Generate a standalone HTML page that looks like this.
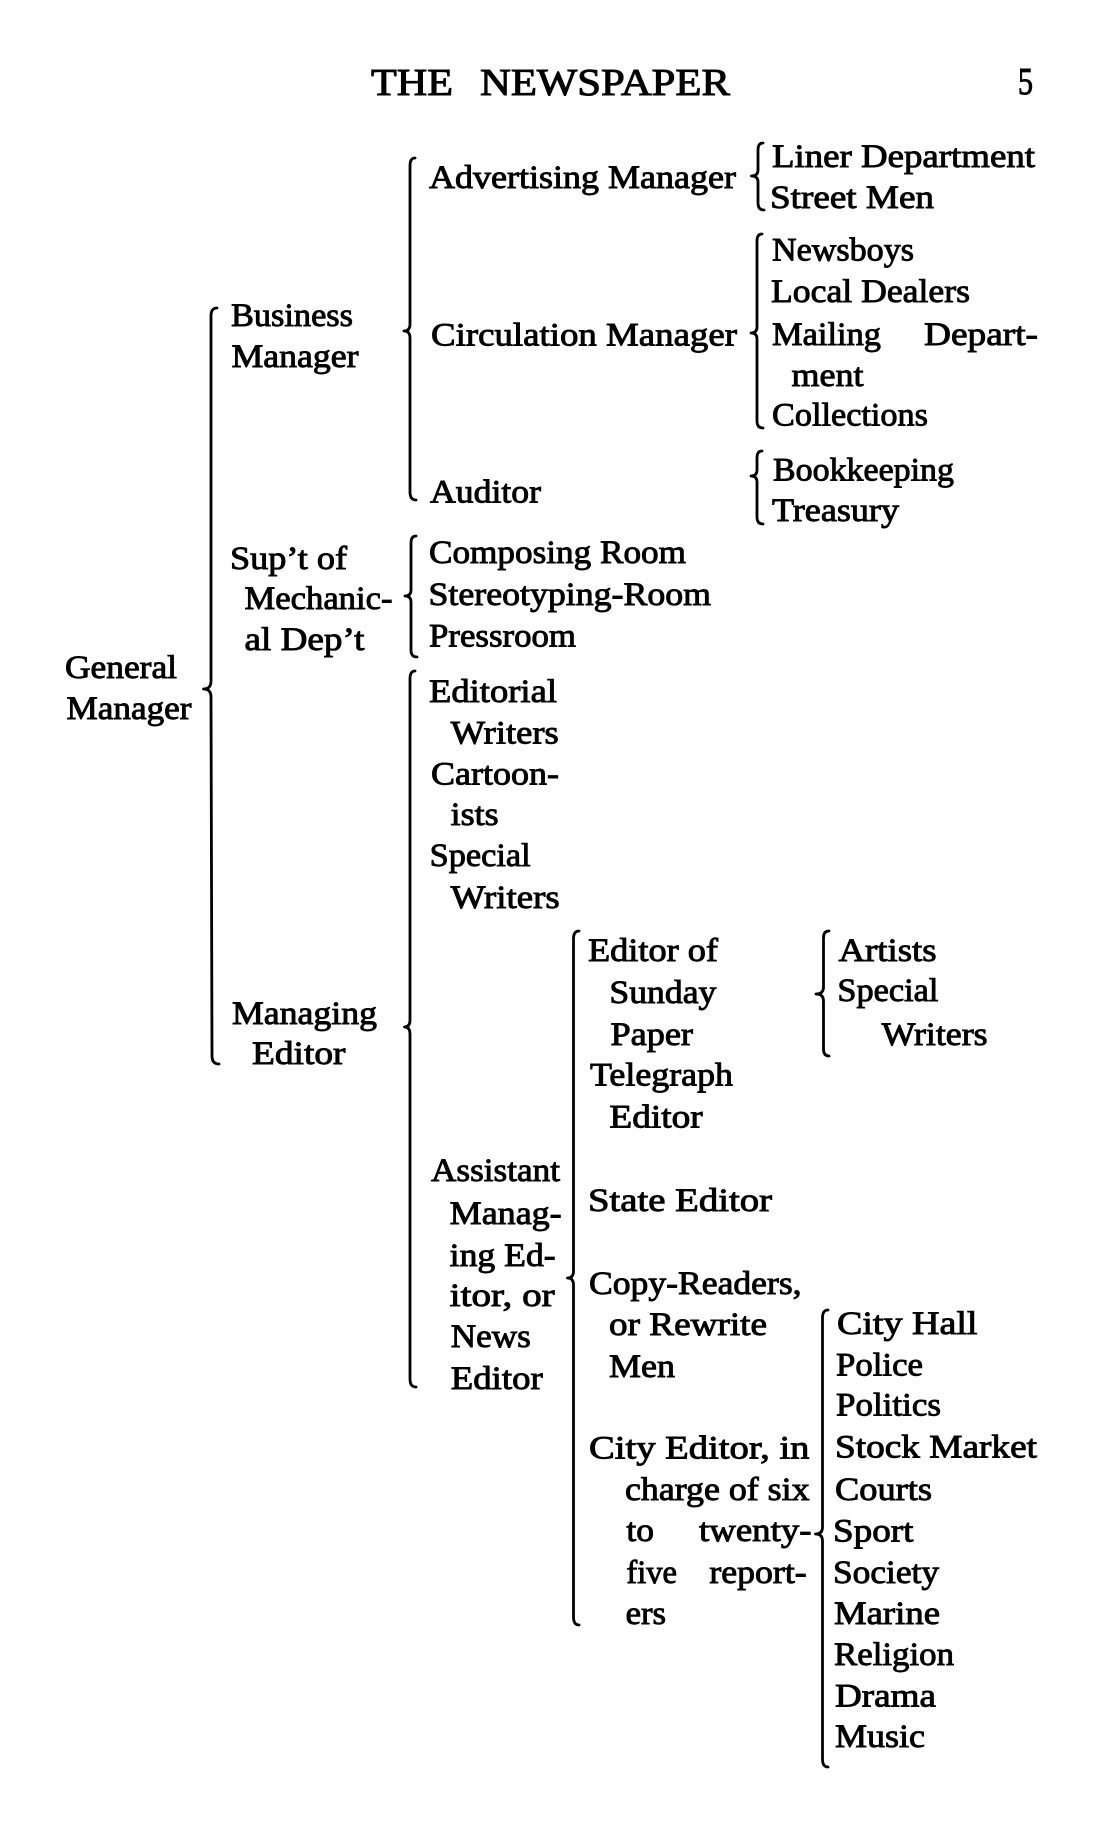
<!DOCTYPE html>
<html>
<head>
<meta charset="utf-8">
<style>
  html,body{margin:0;padding:0;background:#fff;}
  svg{display:block;}
  text{font-family:"Liberation Serif","DejaVu Serif",serif;font-size:33px;fill:#000;stroke:#000;stroke-width:0.9px;}
  .h{font-size:38px;stroke-width:1px;}
  path{fill:none;stroke:#000;stroke-width:2.8;stroke-linecap:round;stroke-linejoin:round;}
</style>
</head>
<body>
<svg width="1099" height="1835" viewBox="0 0 1099 1835" xmlns="http://www.w3.org/2000/svg">
  <!-- Header -->
  <text class="h" x="371" y="95" textLength="82" lengthAdjust="spacingAndGlyphs">THE</text>
  <text class="h" x="480" y="95" textLength="250" lengthAdjust="spacingAndGlyphs">NEWSPAPER</text>
  <text class="h" x="1018" y="94" textLength="15" lengthAdjust="spacingAndGlyphs">5</text>

  <!-- Braces -->
  <path d="M217 308 Q211 308 211 316 L211 681 Q211 689 203.5 689 Q211 689 211 697 L212 1056 Q212 1064 219 1064"/>
  <path d="M415 158 Q410 158 410 166 L410 324 Q410 331 404 331 Q410 331 410 338 L410 492 Q410 500 416 500"/>
  <path d="M416 536 Q411 536 411 543 L411 590 Q411 596 405 596 Q411 596 411 602 L411 650 Q411 657 417 657"/>
  <path d="M415 671 Q410 671 410 679 L410 1020 Q410 1027 404.5 1027 Q410 1027 410 1034 L410 1379 Q410 1387 416 1387"/>
  <path d="M763 143 Q758 143 758 150 L758 170 Q758 176 751.5 176 Q758 176 758 182 L758 203 Q758 210 764 210"/>
  <path d="M762 234 Q757 234 757 241 L757 327 Q757 333 751 333 Q757 333 757 339 L757 421 Q757 428 763 428"/>
  <path d="M762 451 Q757 451 757 458 L757 470 Q757 476 751 476 Q757 476 757 482 L757 517 Q757 524 763 524"/>
  <path d="M579 931 Q573.5 931 573.5 939 L573.5 1271 Q573.5 1278 567.5 1278 Q573.5 1278 573.5 1285 L573.5 1617 Q573.5 1625 579 1625"/>
  <path d="M829 931 Q823.5 931 823.5 938 L823.5 987 Q823.5 994 816 994 Q823.5 994 823.5 1001 L823.5 1049 Q823.5 1056 829 1056"/>
  <path d="M828 1310 Q822.5 1310 822.5 1318 L822.5 1527 Q822.5 1534 815.5 1534 Q822.5 1534 822.5 1541 L822.5 1759 Q822.5 1767 828 1767"/>

  <!-- Level 1 -->
  <text x="65" y="678" textLength="112" lengthAdjust="spacingAndGlyphs">General</text>
  <text x="66.5" y="719" textLength="125" lengthAdjust="spacingAndGlyphs">Manager</text>

  <!-- Level 2 -->
  <text x="231" y="326" textLength="122" lengthAdjust="spacingAndGlyphs">Business</text>
  <text x="231.5" y="367" textLength="127" lengthAdjust="spacingAndGlyphs">Manager</text>
  <text x="230" y="569" textLength="117" lengthAdjust="spacingAndGlyphs">Sup’t of</text>
  <text x="244.5" y="609" textLength="148" lengthAdjust="spacingAndGlyphs">Mechanic-</text>
  <text x="244.5" y="650" textLength="120" lengthAdjust="spacingAndGlyphs">al Dep’t</text>
  <text x="232" y="1024" textLength="145" lengthAdjust="spacingAndGlyphs">Managing</text>
  <text x="252" y="1064" textLength="93.5" lengthAdjust="spacingAndGlyphs">Editor</text>

  <!-- Level 3: Business -->
  <text x="429" y="188" textLength="307" lengthAdjust="spacingAndGlyphs">Advertising Manager</text>
  <text x="431" y="345.5" textLength="306" lengthAdjust="spacingAndGlyphs">Circulation Manager</text>
  <text x="430" y="502.5" textLength="111" lengthAdjust="spacingAndGlyphs">Auditor</text>

  <!-- Level 3: Mechanical -->
  <text x="429" y="563" textLength="257" lengthAdjust="spacingAndGlyphs">Composing Room</text>
  <text x="428.5" y="605" textLength="282.5" lengthAdjust="spacingAndGlyphs">Stereotyping-Room</text>
  <text x="429" y="646.5" textLength="147" lengthAdjust="spacingAndGlyphs">Pressroom</text>

  <!-- Level 3: Managing Editor -->
  <text x="429" y="702" textLength="128" lengthAdjust="spacingAndGlyphs">Editorial</text>
  <text x="450.7" y="743.5" textLength="108" lengthAdjust="spacingAndGlyphs">Writers</text>
  <text x="431" y="784.5" textLength="128" lengthAdjust="spacingAndGlyphs">Cartoon-</text>
  <text x="450.7" y="825" textLength="48" lengthAdjust="spacingAndGlyphs">ists</text>
  <text x="429.7" y="866" textLength="101" lengthAdjust="spacingAndGlyphs">Special</text>
  <text x="450.7" y="908" textLength="109" lengthAdjust="spacingAndGlyphs">Writers</text>
  <text x="431" y="1181" textLength="129" lengthAdjust="spacingAndGlyphs">Assistant</text>
  <text x="449.7" y="1224" textLength="112" lengthAdjust="spacingAndGlyphs">Manag-</text>
  <text x="449.7" y="1266" textLength="106" lengthAdjust="spacingAndGlyphs">ing Ed-</text>
  <text x="449.7" y="1306" textLength="105" lengthAdjust="spacingAndGlyphs">itor, or</text>
  <text x="450.8" y="1347" textLength="80" lengthAdjust="spacingAndGlyphs">News</text>
  <text x="450.8" y="1389" textLength="92" lengthAdjust="spacingAndGlyphs">Editor</text>

  <!-- Level 4 -->
  <text x="772" y="167" textLength="263" lengthAdjust="spacingAndGlyphs">Liner Department</text>
  <text x="770" y="208" textLength="164" lengthAdjust="spacingAndGlyphs">Street Men</text>
  <text x="772" y="260.5" textLength="142" lengthAdjust="spacingAndGlyphs">Newsboys</text>
  <text x="771" y="302" textLength="199" lengthAdjust="spacingAndGlyphs">Local Dealers</text>
  <text x="772" y="345" textLength="109" lengthAdjust="spacingAndGlyphs">Mailing</text>
  <text x="924" y="345" textLength="114" lengthAdjust="spacingAndGlyphs">Depart-</text>
  <text x="791.5" y="386" textLength="72" lengthAdjust="spacingAndGlyphs">ment</text>
  <text x="772" y="425.5" textLength="156" lengthAdjust="spacingAndGlyphs">Collections</text>
  <text x="773" y="480.5" textLength="181" lengthAdjust="spacingAndGlyphs">Bookkeeping</text>
  <text x="772" y="521" textLength="127" lengthAdjust="spacingAndGlyphs">Treasury</text>

  <!-- Level 4: Assistant ME children -->
  <text x="588" y="961" textLength="130" lengthAdjust="spacingAndGlyphs">Editor of</text>
  <text x="609.4" y="1003" textLength="107" lengthAdjust="spacingAndGlyphs">Sunday</text>
  <text x="610.5" y="1045" textLength="82.5" lengthAdjust="spacingAndGlyphs">Paper</text>
  <text x="590" y="1085.5" textLength="143" lengthAdjust="spacingAndGlyphs">Telegraph</text>
  <text x="609.4" y="1127.5" textLength="93.3" lengthAdjust="spacingAndGlyphs">Editor</text>
  <text x="588" y="1211" textLength="184" lengthAdjust="spacingAndGlyphs">State Editor</text>
  <text x="589" y="1294" textLength="212.6" lengthAdjust="spacingAndGlyphs">Copy-Readers,</text>
  <text x="609" y="1335" textLength="158" lengthAdjust="spacingAndGlyphs">or Rewrite</text>
  <text x="609" y="1377" textLength="66" lengthAdjust="spacingAndGlyphs">Men</text>
  <text x="589" y="1458.5" textLength="220.5" lengthAdjust="spacingAndGlyphs">City Editor, in</text>
  <text x="625" y="1500" textLength="184.5" lengthAdjust="spacingAndGlyphs">charge of six</text>
  <text x="626.4" y="1541" textLength="27.6" lengthAdjust="spacingAndGlyphs">to</text>
  <text x="699" y="1541" textLength="112.5" lengthAdjust="spacingAndGlyphs">twenty-</text>
  <text x="626.4" y="1583" textLength="50.6" lengthAdjust="spacingAndGlyphs">five</text>
  <text x="709.4" y="1583" textLength="97.3" lengthAdjust="spacingAndGlyphs">report-</text>
  <text x="625.6" y="1624" textLength="40.4" lengthAdjust="spacingAndGlyphs">ers</text>

  <!-- Level 5: Sunday -->
  <text x="838.5" y="961" textLength="98" lengthAdjust="spacingAndGlyphs">Artists</text>
  <text x="837.4" y="1001" textLength="101" lengthAdjust="spacingAndGlyphs">Special</text>
  <text x="881.6" y="1045" textLength="106" lengthAdjust="spacingAndGlyphs">Writers</text>

  <!-- Level 5: City -->
  <text x="837" y="1334" textLength="140.5" lengthAdjust="spacingAndGlyphs">City Hall</text>
  <text x="836" y="1375.5" textLength="87" lengthAdjust="spacingAndGlyphs">Police</text>
  <text x="836" y="1415.5" textLength="105" lengthAdjust="spacingAndGlyphs">Politics</text>
  <text x="835" y="1457.5" textLength="202" lengthAdjust="spacingAndGlyphs">Stock Market</text>
  <text x="835" y="1500" textLength="97" lengthAdjust="spacingAndGlyphs">Courts</text>
  <text x="833" y="1541.5" textLength="80.5" lengthAdjust="spacingAndGlyphs">Sport</text>
  <text x="833" y="1583" textLength="106" lengthAdjust="spacingAndGlyphs">Society</text>
  <text x="834" y="1624" textLength="106" lengthAdjust="spacingAndGlyphs">Marine</text>
  <text x="834" y="1665" textLength="120" lengthAdjust="spacingAndGlyphs">Religion</text>
  <text x="835" y="1706.5" textLength="101" lengthAdjust="spacingAndGlyphs">Drama</text>
  <text x="835" y="1747" textLength="90" lengthAdjust="spacingAndGlyphs">Music</text>
</svg>
</body>
</html>
